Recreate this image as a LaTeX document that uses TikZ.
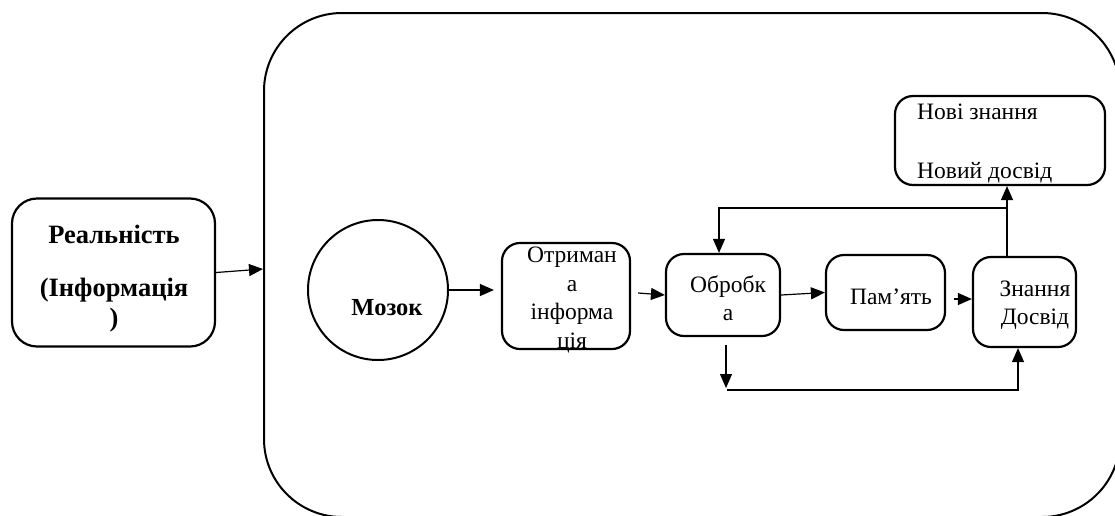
\documentclass[tikz,border=0pt]{standalone}
\usepackage{fontspec}
\setmainfont{Liberation Serif}
\usetikzlibrary{arrows.meta,calc}
\tikzset{
  box/.style={draw, line width=2.2pt, rounded corners=18pt, inner sep=0pt, align=center},
  arr/.style={line width=1.2pt, -{Triangle[length=14pt,width=12pt]}},
  txt/.style={inner sep=0pt, align=center, font=\fontsize{23.5}{28}\selectfont},
}
\begin{document}
\begin{tikzpicture}[x=1pt,y=-1pt]
\useasboundingbox (0,0) rectangle (1115,515);
\clip (0,0) rectangle (1115,515);
% big frame
\draw[line width=2pt, rounded corners=78pt] (264,13) rectangle (1120,517);
% nodes
\node[box, rounded corners=25pt, minimum width=203pt, minimum height=148pt] (real) at (113.5,272.5) {};
\node[txt, font=\fontsize{26.5}{30}\selectfont\bfseries] (realtxt) at (114,279)
  {Реальність\\[23pt](Інформація\\)};
\node[draw, circle, line width=2pt, minimum size=140pt, inner sep=0pt] (brain) at (378,290) {};
\node[txt, font=\fontsize{24.5}{28}\selectfont\bfseries] (braintxt) at (387,308) {Мозок};
\node[box, minimum width=128pt, minimum height=106pt] (recv) at (566,296) {};
\node[txt, font=\fontsize{23.5}{28.5}\selectfont] (recvtxt) at (572,300) {Отриман\\а\\інформа\\ція};
\node[box, minimum width=114pt, minimum height=82pt] (proc) at (723,295) {};
\node[txt] (proctxt) at (728,298) {Обробк\\а};
\node[box, minimum width=119pt, minimum height=75pt] (mem) at (885.5,292.5) {};
\node[txt] (memtxt) at (891,297) {Пам’ять};
\node[box, minimum width=103pt, minimum height=90pt] (know) at (1024.5,302) {};
\node[txt] (knowtxt) at (1035,305) {Знання\\Досвід};
\node[box, minimum width=210pt, minimum height=89pt] (new) at (1000,140.5) {};
\node[txt, align=left, anchor=west] (newtxt) at (917,143) {Нові знання\\[31pt]Новий досвід};
% coordinates
\coordinate (frameL) at (263,269);
\coordinate (up) at (1007,208);
\coordinate (fbL) at (719,208);
\coordinate (dn1) at (726,345);
\coordinate (dn2) at (726,388);
\coordinate (bl) at (727,390);
\coordinate (br) at (1018,390);
% connectors
\draw[arr] (real.east) -- (frameL);
\draw[arr, shorten >=7pt] (brain.east) -- (recv.west |- brain.east);
\draw[arr] ([shift={(7,-3)}]recv.east) -- (proc.west);
\draw[arr] (proc.east) -- (mem.west);
\draw[arr] ([shift={(8,6.5)}]mem.east) -- ([shift={(0,-3)}]know.west);
\draw[arr] (know.north -| up) -- (new.south -| up);
\draw[arr] (up) -- (fbL) -- (proc.north -| fbL);
\draw[arr] (dn1) -- (dn2);
\draw[arr] (bl) -- (br) -- (know.south -| br);
\end{tikzpicture}
\end{document}
